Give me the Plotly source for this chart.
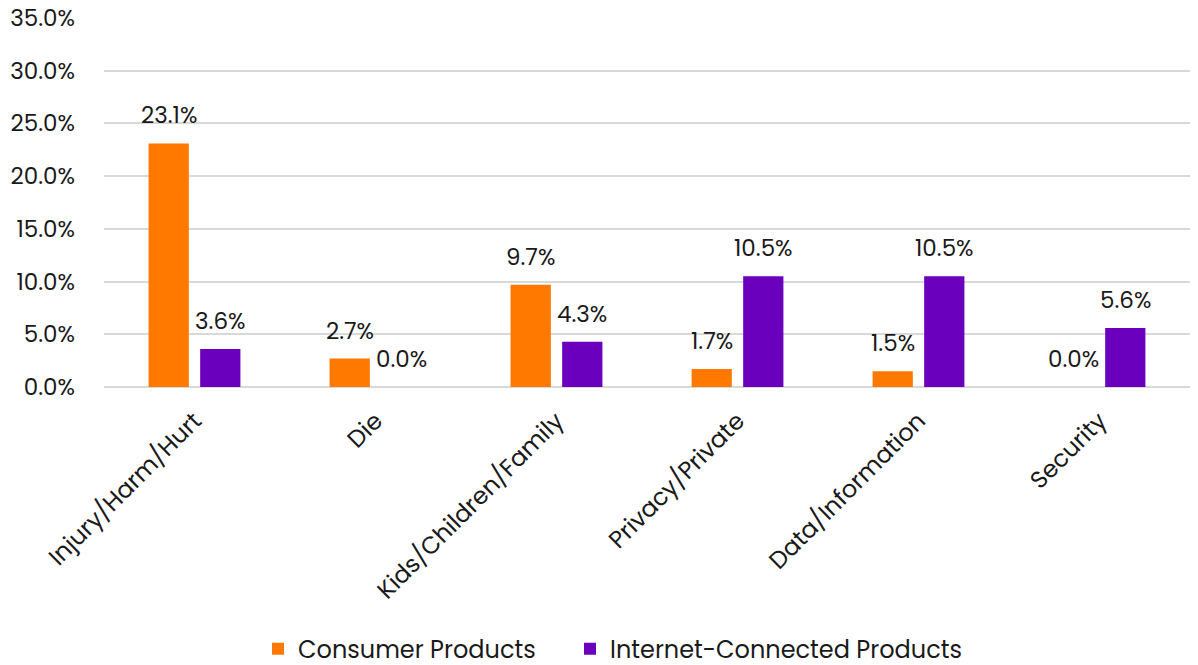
import plotly.graph_objects as go

categories = ["Injury/Harm/Hurt", "Die", "Kids/Children/Family",
              "Privacy/Private", "Data/Information", "Security"]
consumer = [23.1, 2.7, 9.7, 1.7, 1.5, 0.0]
internet = [3.6, 0.0, 4.3, 10.5, 10.5, 5.6]
series_names = ["Consumer Products", "Internet-Connected Products"]
colors = ["#FF7800", "#6A00BE"]
y_ticks = [0, 5, 10, 15, 20, 25, 30, 35]

FONT = "Poppins, Open Sans, sans-serif"

fig = go.Figure()
for k, (name, vals, col) in enumerate(zip(series_names, [consumer, internet], colors)):
    fig.add_trace(go.Bar(
        x=categories, y=vals, name=name,
        marker=dict(color=col, line=dict(width=0)),
        legend="legend" if k == 0 else "legend2",
    ))

# value labels above each bar
plot_w = 1198 - 104 - 8
slot = plot_w / len(categories) * (1 - 0.43) / 2
for i, vals in enumerate([consumer, internet]):
    shift = (-0.5 + i) * slot
    for c, v in zip(categories, vals):
        fig.add_annotation(
            x=c, y=v, text=f"{v:.1f}%", showarrow=False,
            xshift=shift, yshift=10, yanchor="bottom",
            font=dict(size=23, color="#1a1a1a", family=FONT),
        )

legend_common = dict(orientation="h", xref="container", yref="container",
                     xanchor="left", y=0.024, yanchor="middle",
                     font=dict(size=24), itemwidth=30,
                     bgcolor="rgba(0,0,0,0)")

fig.update_layout(
    width=1198, height=665,
    margin=dict(l=104, r=8, t=18, b=278, autoexpand=False),
    paper_bgcolor="white", plot_bgcolor="white",
    barmode="group", bargap=0.43, bargroupgap=0.22,
    font=dict(family=FONT, size=23, color="#1a1a1a"),
    showlegend=True,
    legend=dict(x=258 / 1198, **legend_common),
    legend2=dict(x=570 / 1198, **legend_common),
    xaxis=dict(tickangle=-45, showgrid=False, showline=False, ticks="",
               automargin=False, ticklabelstandoff=14,
               tickfont=dict(size=24)),
    yaxis=dict(range=[0, 35], tickvals=y_ticks,
               ticktext=[f"{t:.1f}%" for t in y_ticks],
               showgrid=True, gridcolor="#D9D9D9", gridwidth=1.5,
               zeroline=True, zerolinecolor="#D9D9D9", zerolinewidth=1.5,
               showline=False, ticks="", ticklabelstandoff=28,
               automargin=False, tickfont=dict(size=23)),
)

fig.write_html("out.html")
